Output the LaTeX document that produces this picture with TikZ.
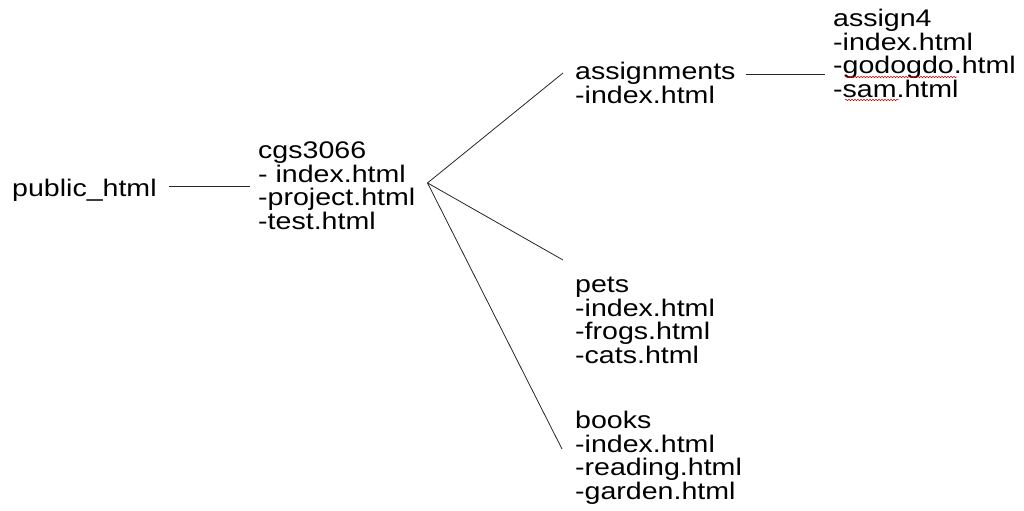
\documentclass[tikz,border=0pt]{standalone}
\usepackage{fontspec}
\setmainfont[FakeStretch=1.19]{Liberation Sans}
\usetikzlibrary{calc,decorations.pathmorphing}

\tikzset{
  folder/.style={anchor=north west, inner sep=0pt, align=left,
    font=\fontsize{24bp}{23.5bp}\selectfont},
  link/.style={line width=0.8bp, black!85},
  typo/.style={red!80!black, line width=0.5bp,
    decorate, decoration={snake, amplitude=0.8bp, segment length=3bp}}
}

\begin{document}
\begin{tikzpicture}[x=1bp,y=-1bp]
			%%%%% START %%%%%
			\useasboundingbox (0,0) rectangle (1024,511);
			
			\node[folder] (public) at (12,179) {public\_html};
			\node[folder] (cgs) at (258,142) {cgs3066\\- index.html\\-project.html\\-test.html};
			
			\node[folder] (assignments) at (575,62) {assignments\\-index.html};
			\node[folder] (assignfour) at (833,9) {assign4\\-index.html\\-godogdo.html\\-sam.html};
			
			\node[folder] (pets) at (575,277) {pets\\-index.html\\-frogs.html\\-cats.html};
			\node[folder] (books) at (575,411) {books\\-index.html\\-reading.html\\-garden.html};
			
			% plain lines between the folders
			\draw[link, shorten <=12bp, shorten >=8bp] ([yshift=4bp]public.east) -- ([yshift=4bp]public.east -| cgs.west);
			\draw[link, shorten <=10bp, shorten >=8bp] ([yshift=-12bp]assignments.north east) -- ([yshift=-12bp]assignments.north east -| assignfour.west);
			
			% the fan out of cgs3066
			\coordinate (fan) at ($(cgs.east)+(12,-3)$);
			\coordinate (assignmentsin) at ($(assignments.north west)+(-12,11)$);
			\coordinate (petsin) at ($(pets.north west)+(-12,-17)$);
			\coordinate (booksin) at ($(books.north west)+(-13,38)$);
			\draw[link] (assignmentsin) -- (fan) -- (petsin);
			\draw[link] (fan) -- (booksin);
			
			% spell check marks
			\draw[typo] ($(assignfour.north west)+(12,68)$) -- ++(112,0);
			\draw[typo] ($(assignfour.north west)+(12,91)$) -- ++(54,0);
			
			%%%%% END %%%%%
\end{tikzpicture}
\end{document}
